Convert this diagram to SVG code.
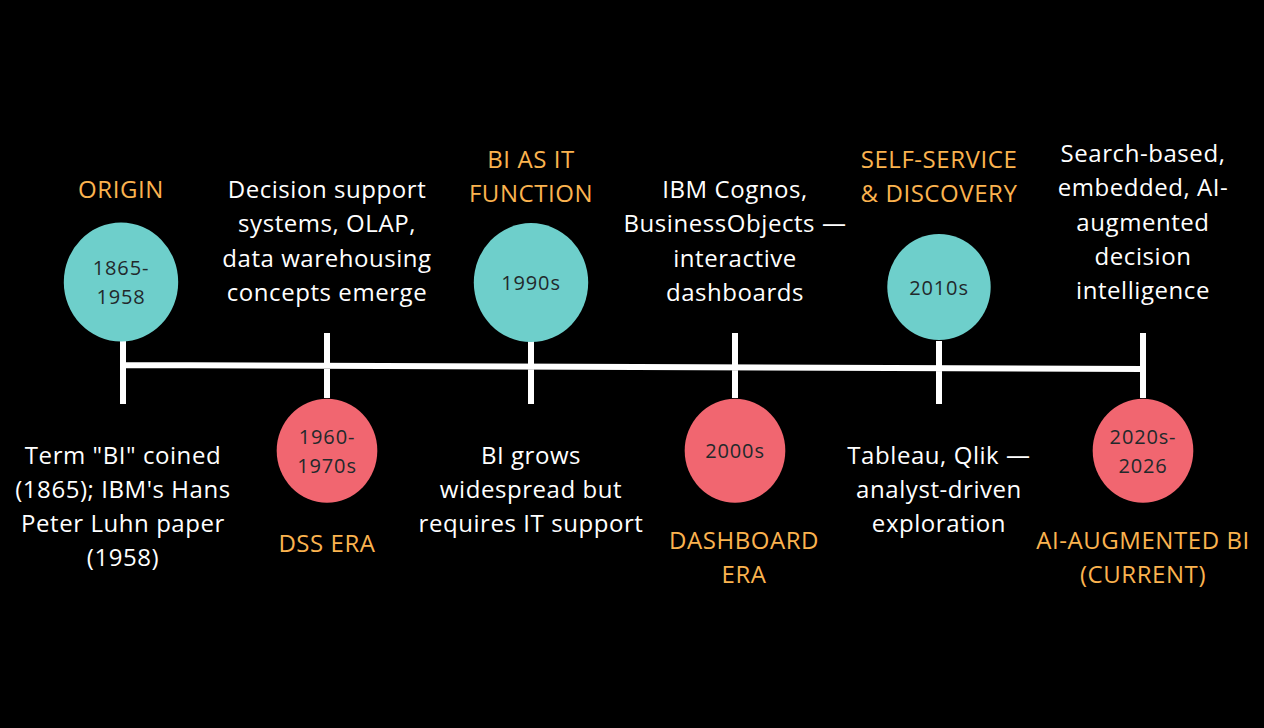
<svg xmlns="http://www.w3.org/2000/svg" width="1264" height="728" viewBox="0 0 1264 728">
<style>
text{font-family:"Open Sans","Noto Sans",sans-serif;text-anchor:middle}
.b{font-size:24px;fill:#ffffff;letter-spacing:.56px}
.t{font-size:24px;fill:#fbb34f;letter-spacing:.56px}
.y{font-size:20px;fill:#22292b;letter-spacing:.85px}
.l{stroke:#fff;stroke-width:6;fill:none}
.c1{fill:#6ecfcb}.c2{fill:#f16670}
</style>
<rect width="1264" height="728" fill="#000"/>
<g id="connectors">
<path class="l" d="M123 341V404M327 333V398M531 341V404M735 333V398M939 341V404M1143 333V398M123 365L1143 369"/>
</g>
<g id="n1"><ellipse class="c1" cx="121" cy="282" rx="57.200" ry="59.500"/><text class="y" x="121" y="275">1865-</text><text class="y" x="121" y="304">1958</text><text class="t" x="121" y="198">ORIGIN</text><text class="b" x="123" y="464">Term "BI" coined</text><text class="b" x="123" y="498">(1865); IBM's Hans</text><text class="b" x="123" y="532">Peter Luhn paper</text><text class="b" x="123" y="566">(1958)</text></g>
<g id="n2"><ellipse class="c2" cx="327" cy="450.700" rx="50.300" ry="52"/><text class="y" x="327" y="444">1960-</text><text class="y" x="327" y="473">1970s</text><text class="t" x="327" y="552">DSS ERA</text><text class="b" x="327" y="198">Decision support</text><text class="b" x="327" y="232">systems, OLAP,</text><text class="b" x="327" y="267">data warehousing</text><text class="b" x="327" y="301">concepts emerge</text></g>
<g id="n3"><ellipse class="c1" cx="531" cy="282.600" rx="57.200" ry="59.500"/><text class="y" x="531" y="290">1990s</text><text class="t" x="531" y="168">BI AS IT</text><text class="t" x="531" y="202">FUNCTION</text><text class="b" x="531" y="464">BI grows</text><text class="b" x="531" y="498">widespread but</text><text class="b" x="531" y="532">requires IT support</text></g>
<g id="n4"><ellipse class="c2" cx="735" cy="450.700" rx="50.300" ry="52"/><text class="y" x="735" y="458">2000s</text><text class="t" x="744" y="549">DASHBOARD</text><text class="t" x="744" y="583">ERA</text><text class="b" x="735" y="198">IBM Cognos,</text><text class="b" x="735" y="232">BusinessObjects —</text><text class="b" x="735" y="267">interactive</text><text class="b" x="735" y="301">dashboards</text></g>
<g id="n5"><ellipse class="c1" cx="939" cy="287" rx="51.700" ry="53"/><text class="y" x="939" y="295">2010s</text><text class="t" x="939" y="168">SELF-SERVICE</text><text class="t" x="939" y="202">&amp; DISCOVERY</text><text class="b" x="939" y="464">Tableau, Qlik —</text><text class="b" x="939" y="498">analyst-driven</text><text class="b" x="939" y="532">exploration</text></g>
<g id="n6"><ellipse class="c2" cx="1143" cy="450.700" rx="50.300" ry="52"/><text class="y" x="1143" y="444">2020s-</text><text class="y" x="1143" y="473">2026</text><text class="t" x="1143" y="549">AI-AUGMENTED BI</text><text class="t" x="1143" y="583">(CURRENT)</text><text class="b" x="1143" y="162">Search-based,</text><text class="b" x="1143" y="196">embedded, AI-</text><text class="b" x="1143" y="231">augmented</text><text class="b" x="1143" y="265">decision</text><text class="b" x="1143" y="299">intelligence</text></g>
</svg>
